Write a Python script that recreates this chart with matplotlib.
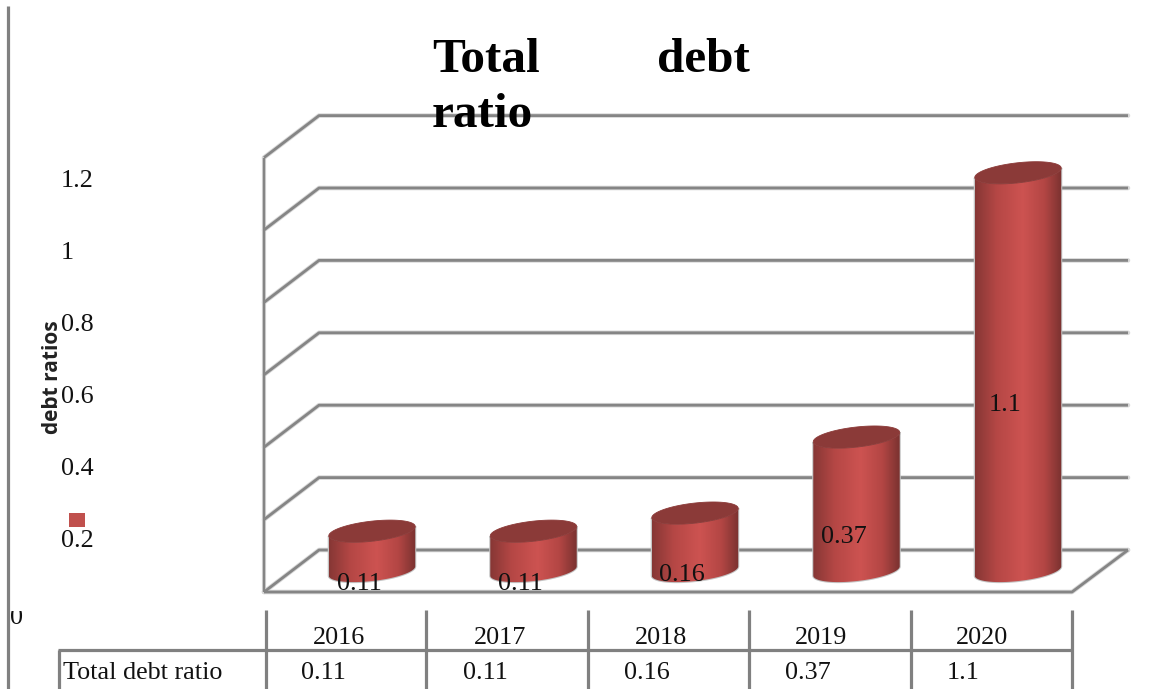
import numpy as np
import matplotlib
matplotlib.use('Agg')
import matplotlib.pyplot as plt
from matplotlib.colors import LinearSegmentedColormap
from matplotlib.patches import Polygon, Rectangle
from matplotlib.transforms import Affine2D

years = ['2016', '2017', '2018', '2019', '2020']
debt_ratio = [0.11, 0.11, 0.16, 0.37, 1.1]
ratio_labels = ['0.11', '0.11', '0.16', '0.37', '1.1']
y_ticks = [0, 0.2, 0.4, 0.6, 0.8, 1, 1.2]
y_tick_labels = ['0', '0.2', '0.4', '0.6', '0.8', '1', '1.2']

W, H = 1149, 689
SERIF = 'Liberation Serif'
GREY = '#858585'
FS = 18.8

plt.rcParams['font.family'] = SERIF

fig = plt.figure(figsize=(W / 100, H / 100), dpi=100)
ax = fig.add_axes([0, 0, 1, 1])
ax.axis('off')

# px: y-down screen coordinates for the frame, data goes through the axes scale
px = Affine2D().scale(1, -1).translate(0, H)
x_scale, y_scale = 161.5, 362.0
x0, y0 = 372.0, 571.0
xlim = (-x0 / x_scale, (W - x0) / x_scale)
ylim = ((y0 - H) / y_scale, y0 / y_scale)
ax.set_xlim(xlim)
ax.set_ylim(ylim)


def to_px(x, y):
    a, b = ax.transData.transform((x, y))
    return a, H - b


def line(xs, ys, lw=2.4, color=GREY, z=2, halo=True):
    if halo:
        ax.plot(xs, ys, color='#d8d8d8', lw=lw + 1.3, transform=px, zorder=z - 0.1,
                solid_capstyle='round', solid_joinstyle='round')
    ax.plot(xs, ys, color=color, lw=lw, transform=px, zorder=z,
            solid_capstyle='butt', solid_joinstyle='round')


# walls and gridlines
for v in y_ticks:
    _, yv = to_px(0, v)
    front, back = yv + 21, yv - 21
    line([264, 319, 1128], [front, back, back], lw=2.0)
_, ybase = to_px(0, 0)
_, ytop = to_px(0, 1.2)
line([264, 264], [ybase + 21, ytop + 21], lw=1.7)
line([264, 1072, 1128], [ybase + 21, ybase + 21, ybase - 21], lw=2.0)

# cylinders
body_cmap = LinearSegmentedColormap.from_list(
    'body', [(0, '#863735'), (0.25, '#b54745'), (0.55, '#cd5351'), (0.8, '#b34644'), (1, '#7a3230')])
A, B, TILT = 43.5, 10.0, np.radians(-6.5)
grad = np.linspace(0, 1, 256).reshape(1, -1)


def rim(cx, cy, t):
    xs = cx + A * np.cos(t) * np.cos(TILT) - B * np.sin(t) * np.sin(TILT)
    ys = cy + A * np.cos(t) * np.sin(TILT) + B * np.sin(t) * np.cos(TILT)
    return np.column_stack([xs, ys])


for i, v in enumerate(debt_ratio):
    cx, top = to_px(i, v)
    _, bottom = to_px(i, 0)
    t = np.linspace(np.pi, 0, 60)
    outline = np.vstack([rim(cx, bottom, t), rim(cx, top, t)[::-1]])
    ax.add_patch(Polygon(outline, closed=True, facecolor='#c4c4c4', edgecolor='#c4c4c4',
                         lw=1.5, transform=px, zorder=4))
    im = ax.imshow(grad, extent=(cx - A, cx + A, bottom + 20, top - 20), cmap=body_cmap,
                   transform=px, aspect='auto', zorder=5, interpolation='bilinear')
    im.set_clip_path(Polygon(outline, closed=True, transform=px))
    cap = rim(cx, top, np.linspace(0, 2 * np.pi, 90))
    ax.add_patch(Polygon(cap, closed=True, facecolor='#8b3a38', edgecolor='#8b3a38',
                         lw=0.6, transform=px, zorder=6))
    # value sits at half the cylinder height
    ax.text(cx - 13, 610 - v * 181, ratio_labels[i], transform=px, fontsize=FS, ha='center',
            va='baseline', color='#111111', zorder=8)

ax.set_xlim(xlim)
ax.set_ylim(ylim)
ax.set_autoscale_on(False)

# page rule on the left and the data table below the plot
line([8, 8], [6, H], lw=2.3, color='#808080', halo=False)
for x in [266, 426, 588, 749, 911, 1072]:
    line([x, x], [610, H], lw=2.3, color='#808080', halo=False)
line([58, 1073], [650, 650], lw=2.3, color='#808080', halo=False)
line([59, 59], [650, H], lw=2.3, color='#808080', halo=False)

for i, year in enumerate(years):
    cx, _ = to_px(i, 0)
    ax.text(339 + i * 160.75, 644, year, transform=px, fontsize=FS, ha='center', va='baseline',
            color='#111111')
    ax.text(cx - 71, 679, ratio_labels[i], transform=px, fontsize=FS, ha='left', va='baseline',
            color='#111111')
ax.text(63, 679, 'Total debt ratio', transform=px, fontsize=FS, ha='left', va='baseline', color='#111111')

# y tick labels, the zero is cut off by the table's top edge
for v, lab in zip(y_ticks, y_tick_labels):
    if v == 0:
        t0 = ax.text(10, 624, lab, transform=px, fontsize=FS, ha='left', va='baseline', color='#111111')
        t0.set_clip_path(Rectangle((9, 611), 20, 20, transform=px))
        t0.set_clip_on(True)
    else:
        ax.text(61, 619 - v * 360, lab, transform=px, fontsize=FS, ha='left', va='baseline',
                color='#111111')

ax.text(52, 377, 'debt ratios', transform=px, rotation=90, fontsize=15, fontweight='bold',
        family='Open Sans', ha='center', va='center', color='#222222')
ax.add_patch(Rectangle((69, 513), 16, 14, facecolor='#c0504d', edgecolor='none', transform=px, zorder=3))

# title is justified across two lines
title_kw = dict(transform=px, fontsize=35.5, fontweight='bold', ha='left', va='baseline', color='black', zorder=9)
ax.text(432, 72, 'Total', **title_kw)
ax.text(657, 72, 'debt', **title_kw)
ax.text(432, 127, 'ratio', **title_kw)

fig.savefig('out.png', dpi=100)
